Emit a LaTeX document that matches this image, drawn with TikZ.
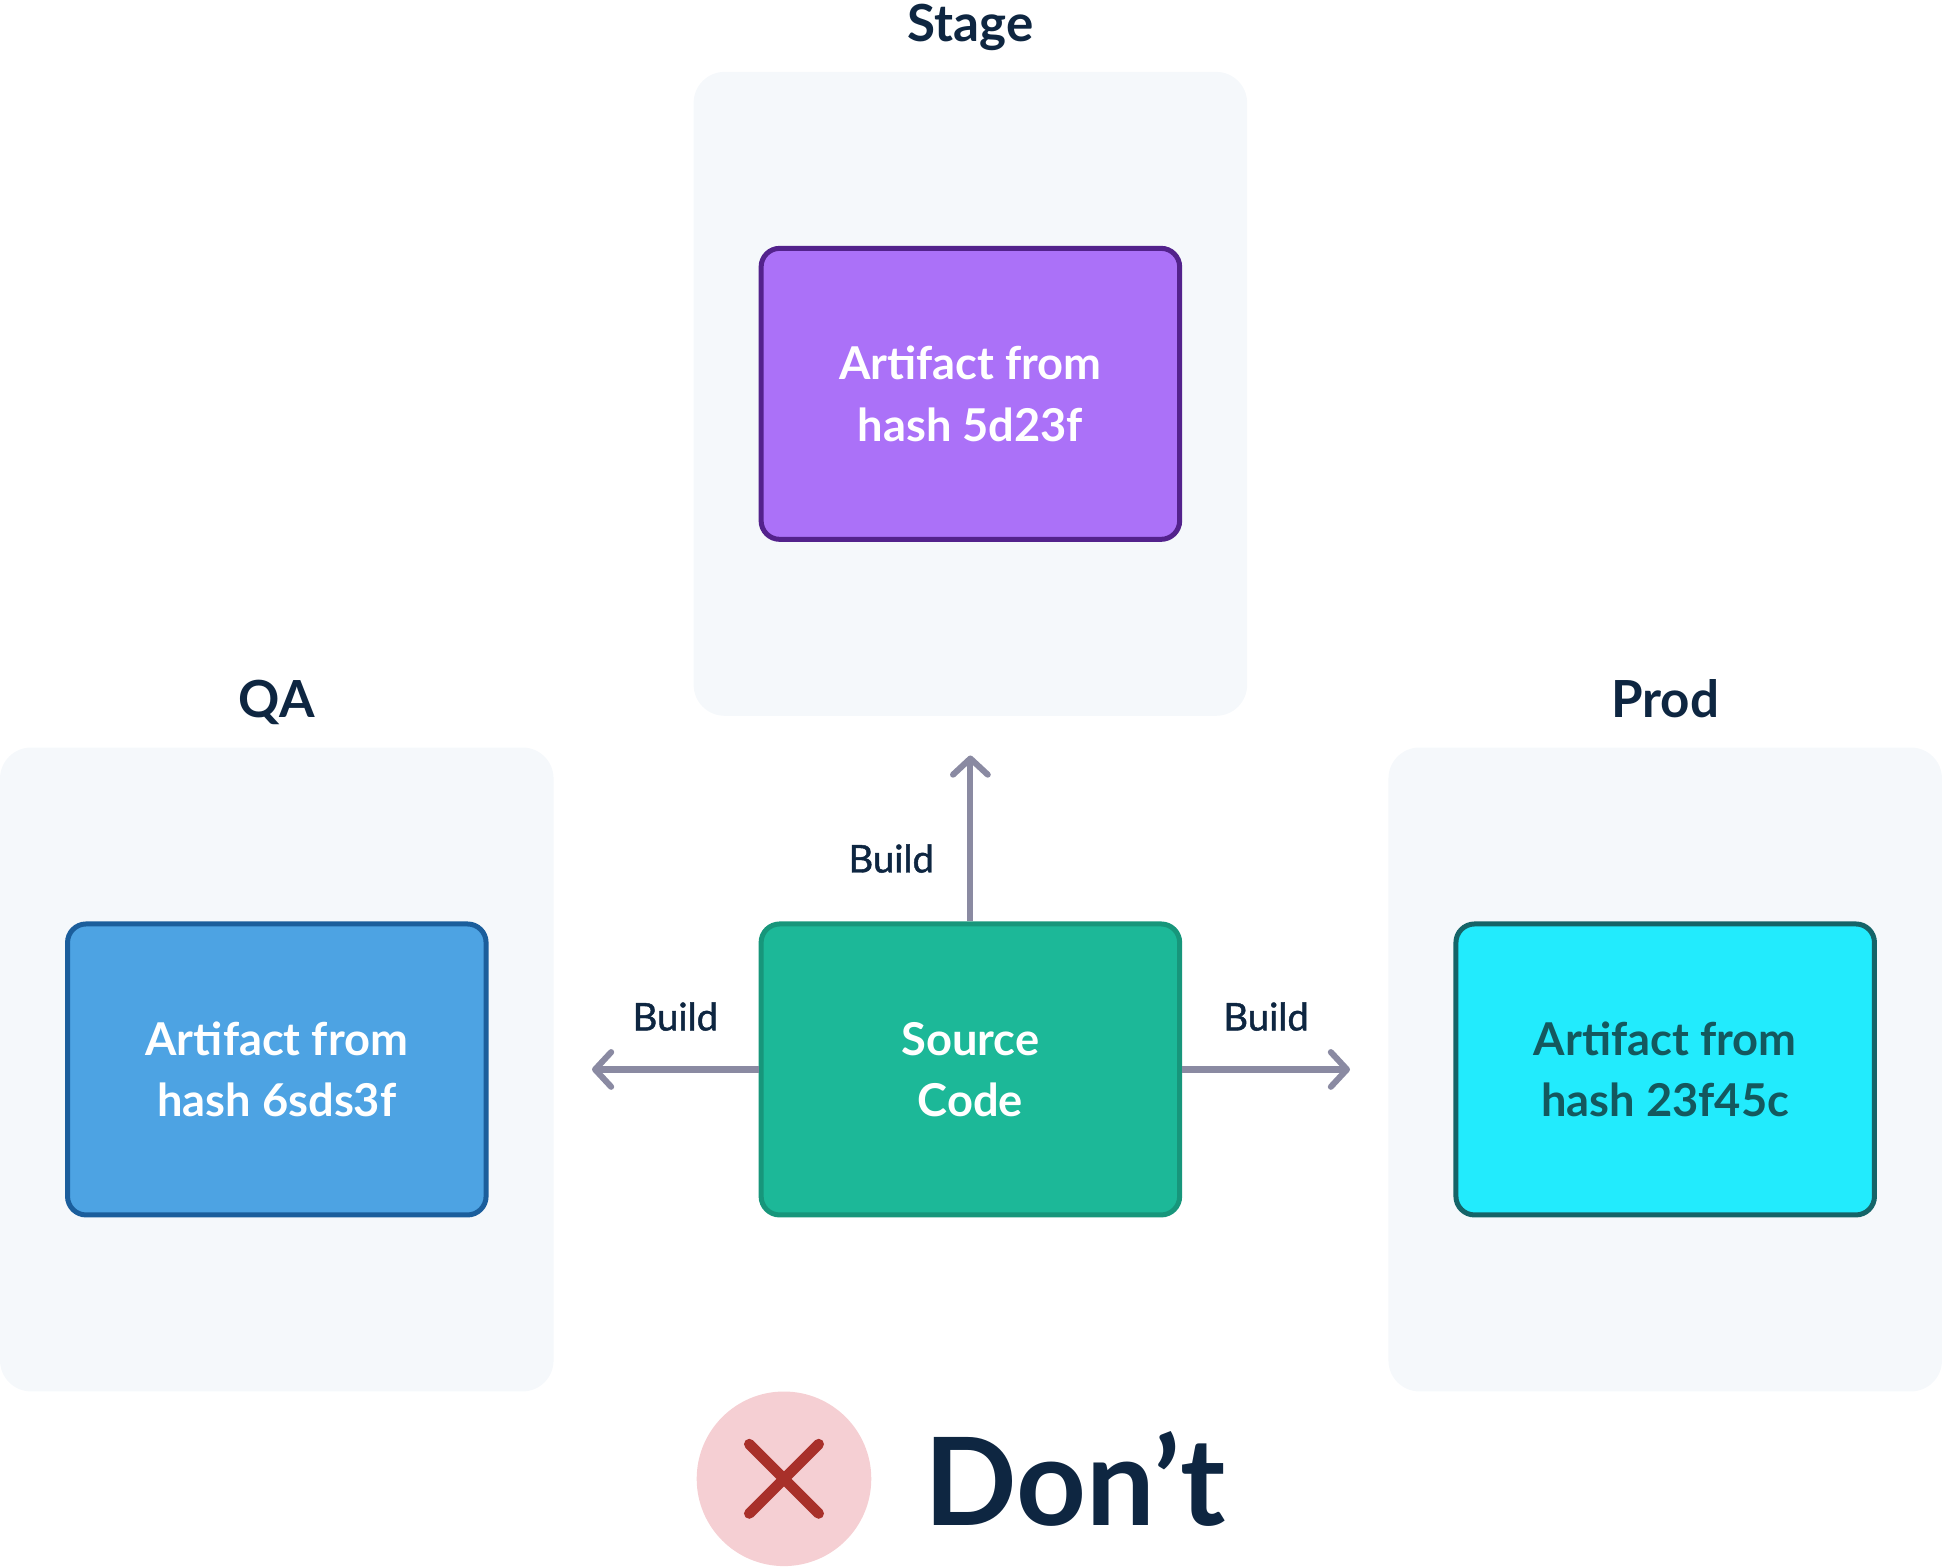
\documentclass[tikz,border=0pt]{standalone}
\usepackage{fontspec}
\setmainfont{Lato}
\newfontfamily\buildfont{Lato}[FakeBold=1.2]
\usetikzlibrary{positioning, arrows.meta}
\definecolor{xnavy}{HTML}{0E2641}
\definecolor{xpanel}{HTML}{F5F8FB}
\definecolor{xpurple}{HTML}{AB71F8}
\definecolor{xpurpleline}{HTML}{53228C}
\definecolor{xblue}{HTML}{4DA3E3}
\definecolor{xblueline}{HTML}{1B5E9C}
\definecolor{xgreen}{HTML}{1CB898}
\definecolor{xgreenline}{HTML}{17967B}
\definecolor{xcyan}{HTML}{22EBFD}
\definecolor{xcyanline}{HTML}{156468}
\definecolor{xcyantext}{HTML}{14585E}
\definecolor{xarrow}{HTML}{8A8AA2}
\definecolor{xpink}{HTML}{F5CFD3}
\definecolor{xred}{HTML}{A8302A}
\tikzset{
	panel/.style = {fill=xpanel, rounded corners=0.5cm, minimum width=8.94cm, minimum height=10.4cm, inner sep=0pt},
	artifact/.style = {fill=#1, draw=#1line, line width=2.3pt, rounded corners=0.3cm, minimum width=6.76cm, minimum height=4.7cm, align=center, text=white, font=\bfseries\fontsize{20.8}{28.3}\selectfont},
	title/.style = {text=xnavy, inner sep=0pt, text depth=0pt, font=\bfseries\fontsize{23.5}{26}\selectfont},
	build/.style = {draw=xarrow, line width=2.8pt, -{Straight Barb[length=0.26cm, width=0.56cm, round]}},
	lbl/.style = {text=xnavy, inner sep=0pt, text depth=0pt, font=\buildfont\fontsize{17.6}{20}\selectfont},
}

\begin{document}
\begin{tikzpicture}[x=0.02cm, y=-0.02cm]
	\useasboundingbox (0,0) rectangle (1568,1266);
	\node[panel] (qapanel) at (223.5,863.5) {};
	\node[panel] (stagepanel) at (783.5,318) {};
	\node[panel] (prodpanel) at (1344.5,863.5) {};
	\node[title, above=0.47cm of qapanel] (qatitle) {QA};
	\node[title, above=0.47cm of stagepanel] (stagetitle) {Stage};
	\node[title, above=0.47cm of prodpanel] (prodtitle) {Prod};
	\node[artifact=xblue] (qa) at (qapanel) {Artifact from\\hash 6sds3f};
	\node[artifact=xpurple] (stage) at (stagepanel) {Artifact from\\hash 5d23f};
	\node[artifact=xcyan, text=xcyantext] (prod) at (prodpanel) {Artifact from\\hash 23f45c};
	\node[artifact=xgreen] (src) at (783.5,863.5) {Source\\Code};
	\coordinate (qaend) at (478,863.5);
	\coordinate (prodend) at (1090,863.5);
	\coordinate (stageend) at (783.5,610);
	\draw[build] (src) -- (qaend) node[midway, above=0.58cm, lbl] {Build};
	\draw[build] (src) -- (prodend) node[midway, above=0.58cm, lbl] {Build};
	\draw[build] (src) -- (stageend) node[pos=0.38, left=0.54cm, lbl] {Build};
	% bottom badge
	\node[circle, fill=xpink, minimum size=2.82cm, inner sep=0pt] (badge) at (633,1194) {};
	\draw[xred, line width=4.9pt, line cap=round] (605,1166) -- (661,1222) (661,1166) -- (605,1222);
	\node[right=0.85cm of badge, text=xnavy, inner sep=0pt, font=\bfseries\fontsize{56}{60}\selectfont] (dont) {Don’t};
\end{tikzpicture}
\end{document}
